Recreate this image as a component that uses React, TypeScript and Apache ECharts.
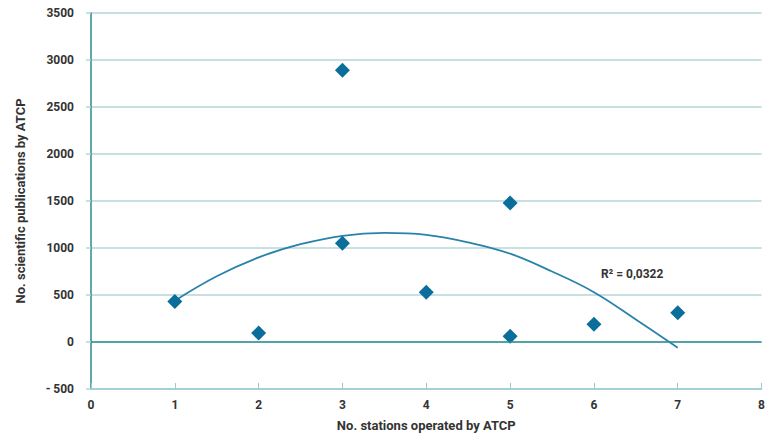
import React, { useEffect, useRef } from "react";
import * as echarts from "echarts";

const stations = [1, 2, 3, 3, 4, 5, 5, 6, 7];
const publications = [430, 95, 2890, 1050, 530, 1480, 60, 190, 310];
const trendX = [1, 1.5, 2, 2.5, 3, 3.5, 4, 4.5, 5, 5.5, 6, 6.5, 7];
const trendY = [440, 700, 900, 1040, 1130, 1160, 1140, 1060, 940, 750, 530, 240, -60];
const r2Label = "R² = 0,0322";
const xTitle = "No. stations operated by ATCP";
const yTitle = "No. scientific publications by ATCP";

const FONT = "Roboto, 'Noto Sans', sans-serif";

export default function App() {
  const ref = useRef<HTMLDivElement>(null);
  useEffect(() => {
    if (!ref.current) return;
    const chart = echarts.init(ref.current, undefined, { renderer: "svg" });
    chart.setOption({
      animation: false,
      backgroundColor: "#ffffff",
      grid: { left: 91, right: 6, top: 13, bottom: 51 },
      xAxis: {
        type: "value",
        min: 0,
        max: 8,
        interval: 1,
        name: xTitle,
        nameLocation: "middle",
        nameGap: 30,
        nameTextStyle: { fontFamily: FONT, fontWeight: "bold", fontSize: 13, color: "#333" },
        axisLine: { onZero: false, lineStyle: { color: "#9ccbcd", width: 1.5 } },
        axisTick: { inside: true, length: 6, lineStyle: { color: "#9ccbcd" } },
        axisLabel: { fontFamily: FONT, fontWeight: "bold", fontSize: 12, color: "#333", margin: 10 },
        splitLine: { show: false },
      },
      yAxis: {
        type: "value",
        min: -500,
        max: 3500,
        interval: 500,
        name: yTitle,
        nameLocation: "middle",
        nameGap: 64,
        nameRotate: 90,
        nameTextStyle: { fontFamily: FONT, fontWeight: "bold", fontSize: 13, color: "#333" },
        axisLine: { show: true, lineStyle: { color: "#2a8a90", width: 1.5 } },
        axisTick: { show: true, length: 5, lineStyle: { color: "#b5d6d7", width: 1.5 } },
        axisLabel: {
          fontFamily: FONT,
          fontWeight: "bold",
          fontSize: 12,
          color: "#333",
          margin: 17,
          formatter: (v: number) => (v < 0 ? "- " + Math.abs(v) : String(v)),
        },
        splitLine: { show: true, lineStyle: { color: "#b5d6d7", width: 1.5 } },
      },
      series: [
        {
          type: "line",
          data: trendX.map((x, i) => [x, trendY[i]]),
          smooth: 0.4,
          showSymbol: false,
          symbol: "none",
          lineStyle: { color: "#2a82ab", width: 1.8 },
          silent: true,
          z: 2,
          markLine: {
            silent: true,
            symbol: "none",
            label: { show: false },
            lineStyle: { color: "#2a8f96", width: 1.5, type: "solid" },
            data: [{ yAxis: 0 }],
          },
        },
        {
          type: "scatter",
          data: stations.map((x, i) => [x, publications[i]]),
          symbol: "diamond",
          symbolSize: 15,
          itemStyle: { color: "#0b6e9a", opacity: 1 },
          z: 3,
        },
      ],
      graphic: [
        {
          type: "text",
          left: 601,
          top: 268,
          style: {
            text: r2Label,
            font: `bold 12px ${FONT}`,
            fill: "#333",
          },
        },
      ],
    });
    return () => chart.dispose();
  }, []);
  return <div ref={ref} style={{ width: 768, height: 440, position: "absolute", left: 0, top: 0 }} />;
}
